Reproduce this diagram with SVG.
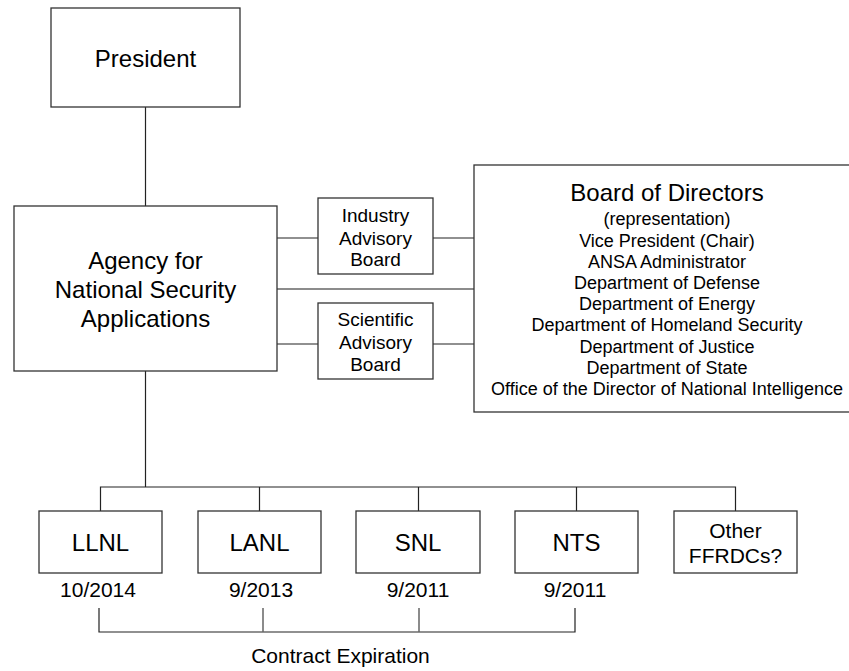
<svg xmlns="http://www.w3.org/2000/svg" width="849" height="671" viewBox="0 0 849 671">
<style>
.box{fill:#fff;stroke:#333;stroke-width:1.3}
.ln{fill:none;stroke:#222;stroke-width:1.2}
.gl{fill:none;stroke:#666;stroke-width:1.5}
text{font-family:"Liberation Sans",Arial,sans-serif;fill:#000;text-anchor:middle}
.t24{font-size:24px}
.t19{font-size:19px}
.t18{font-size:18px}
.t21{font-size:21px}
</style>
<rect width="849" height="671" fill="#fff"/>
<g id="connectors">
<path class="ln" d="M145.5 107V206"/>
<path class="ln" d="M277 238H318M433 238H474"/>
<path class="gl" d="M277 289H474"/>
<path class="ln" d="M277 344H318M433 344H474"/>
<path class="ln" d="M145.5 371V487"/>
<path class="ln" d="M100.5 511V487H735.5V511"/>
<path class="ln" d="M259.5 487V511M418.5 487V511M576.5 487V511"/>
<path class="ln" d="M99 608V632H575V608"/>
<path class="gl" d="M263 608V632M419 608V632"/>
</g>
<g id="president"><rect class="box" x="51" y="8" width="189" height="99"/><text class="t24" x="145.5" y="67">President</text></g>
<g id="ansa"><rect class="box" x="14" y="206" width="263" height="165"/>
<text class="t24" x="145.5" y="269">Agency for</text><text class="t24" x="145.5" y="298">National Security</text><text class="t24" x="145.5" y="327">Applications</text></g>
<g id="industry"><rect class="box" x="318" y="198" width="115" height="76"/>
<text class="t19" x="375.5" y="222">Industry</text><text class="t19" x="375.5" y="245">Advisory</text><text class="t19" x="375.5" y="266">Board</text></g>
<g id="scientific"><rect class="box" x="318" y="303" width="115" height="76"/>
<text class="t19" x="375.5" y="326">Scientific</text><text class="t19" x="375.5" y="349">Advisory</text><text class="t19" x="375.5" y="371">Board</text></g>
<g id="board"><rect class="box" x="474" y="165" width="400" height="247"/>
<text class="t24" x="667" y="201">Board of Directors</text>
<text class="t18" x="667" y="225">(representation)</text>
<text class="t18" x="667" y="247">Vice President (Chair)</text>
<text class="t18" x="667" y="268">ANSA Administrator</text>
<text class="t18" x="667" y="289">Department of Defense</text>
<text class="t18" x="667" y="310">Department of Energy</text>
<text class="t18" x="667" y="331">Department of Homeland Security</text>
<text class="t18" x="667" y="353">Department of Justice</text>
<text class="t18" x="667" y="374">Department of State</text>
<text class="t18" x="667" y="395">Office of the Director of National Intelligence</text></g>
<g id="llnl"><rect class="box" x="39" y="511" width="123" height="62"/><text class="t24" x="100.5" y="551">LLNL</text></g>
<g id="lanl"><rect class="box" x="198" y="511" width="123" height="62"/><text class="t24" x="259.5" y="551">LANL</text></g>
<g id="snl"><rect class="box" x="356" y="511" width="124" height="62"/><text class="t24" x="418" y="551">SNL</text></g>
<g id="nts"><rect class="box" x="515" y="511" width="123" height="62"/><text class="t24" x="576.5" y="551">NTS</text></g>
<g id="other"><rect class="box" x="674" y="511" width="123" height="62"/><text class="t21" x="735.5" y="538">Other</text><text class="t21" x="735.5" y="563">FFRDCs?</text></g>
<g id="dates">
<text class="t21" x="98" y="597">10/2014</text>
<text class="t21" x="261" y="597">9/2013</text>
<text class="t21" x="418" y="597">9/2011</text>
<text class="t21" x="575" y="597">9/2011</text>
<text class="t21" x="340.5" y="663">Contract Expiration</text>
</g>
</svg>
